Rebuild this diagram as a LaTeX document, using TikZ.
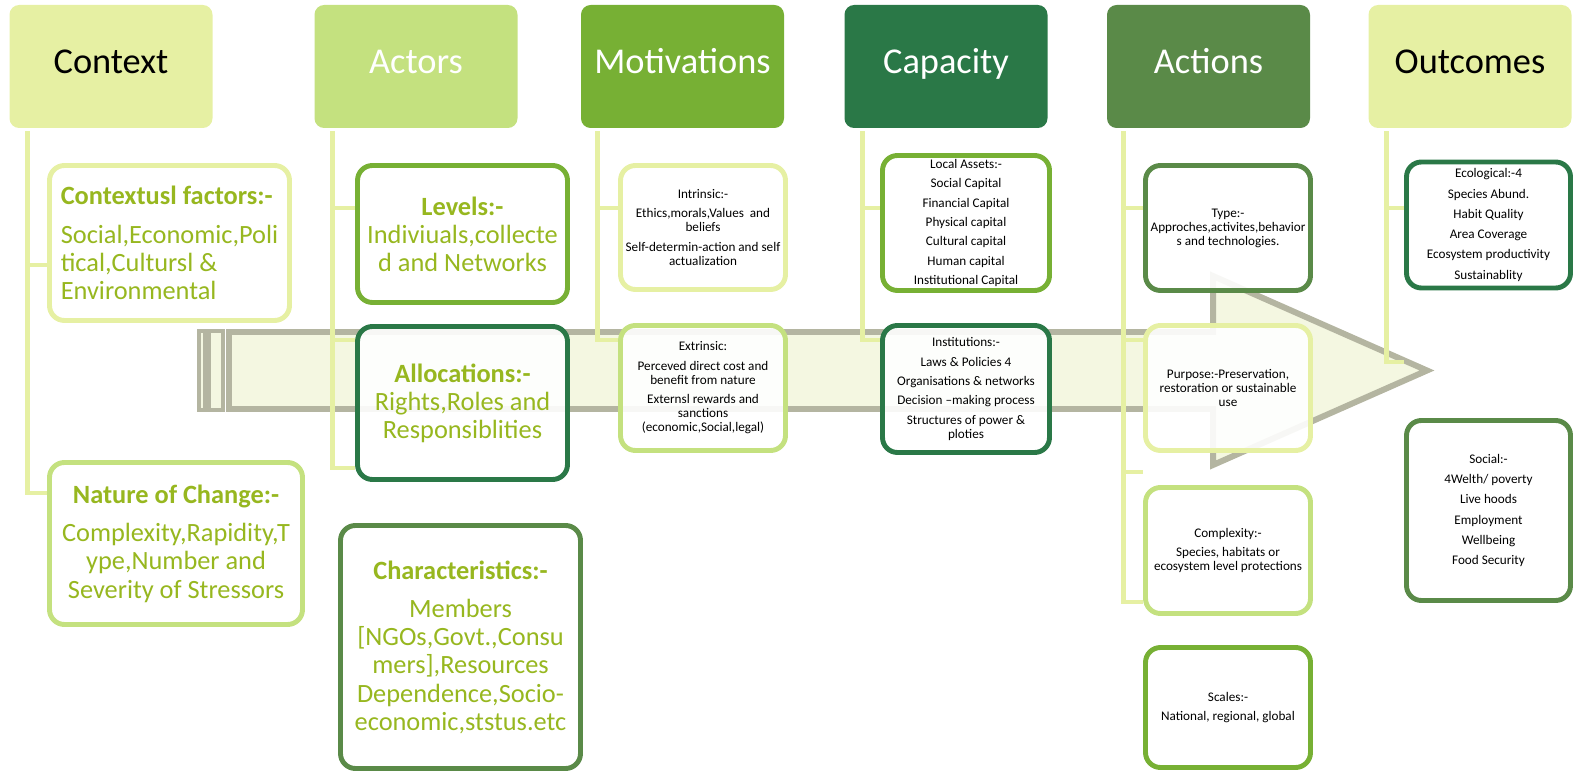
\documentclass[tikz,border=0pt]{standalone}
\usepackage{fontspec}
\setmainfont{Carlito}
\usepackage{xcolor}
\usetikzlibrary{calc}

\definecolor{pale}{HTML}{E6F0A3}
\definecolor{fresh}{HTML}{C4E17F}
\definecolor{grass}{HTML}{77B034}
\definecolor{forest}{HTML}{2A7847}
\definecolor{moss}{HTML}{5A8A48}
\definecolor{leaf}{HTML}{97B71F}
\definecolor{ash}{HTML}{B4B5A1}
\definecolor{cream}{HTML}{F4F7E1}

\pgfdeclarelayer{back}
\pgfsetlayers{back,main}

\begin{document}
\begin{tikzpicture}[
    x=0.02cm, y=-0.02cm,
    head/.style={fill=#1, rounded corners=5.5pt, inner sep=0pt,
                 minimum width=203*0.02cm, minimum height=123*0.02cm,
                 text height=0.8em, text depth=0pt,
                 font=\fontsize{20.7}{24}\selectfont},
    card/.style={draw=#1, line width=2.8pt, rounded corners=8.5pt,
                 fill=white, fill opacity=.9, text opacity=1,
                 inner sep=0pt, align=center},
    wh/.style 2 args={minimum width=#1*0.02cm, minimum height=#2*0.02cm},
    big/.style={font=\fontsize{15}{16}\selectfont, text=leaf},
    small/.style={font=\fontsize{7.5}{8}\selectfont},
    link/.style={draw=pale, line width=2.8pt}
]
\useasboundingbox (0,0) rectangle (1575,776);

\node[head=pale]                (hctx)  at (111,66.5)    {Context};
\node[head=fresh, text=white]   (hact)  at (416,66.5)    {Actors};
\node[head=grass, text=white]   (hmot)  at (682.5,66.5)  {Motivations};
\node[head=forest, text=white]  (hcap)  at (946,66.5)    {Capacity};
\node[head=moss, text=white]    (hacts) at (1208.5,66.5) {Actions};
\node[head=pale]                (hout)  at (1470,66.5)   {Outcomes};

% context
\node[card=pale, wh={240}{155}, big, align=left] (cf) at (169.5,243)
    {\textbf{Contextusl factors:-}\\[6pt]
     Social,Economic,Poli\\tical,Cultursl \&\\Environmental};
\node[card=fresh, wh={253}{162}, big] (noc) at (176,543.5)
    {\textbf{Nature of Change:-}\\[6pt]
     Complexity,Rapidity,T\\ype,Number and\\Severity of Stressors};

% actors
\node[card=grass, wh={210}{137}, big] (lev) at (462.5,234)
    {\textbf{Levels:-}\\Indiviuals,collecte\\d and Networks};
\node[card=forest, wh={210}{153}, big] (alloc) at (462.5,403)
    {\textbf{Allocations:-}\\Rights,Roles and\\Responsiblities};
\node[card=moss, wh={240}{243}, big] (chr) at (460.5,647)
    {\textbf{Characteristics:-}\\[6pt]
     Members\\{[}NGOs,Govt.,Consu\\mers],Resources\\
     Dependence,Socio-\\economic,ststus.etc};

% motivations
\node[card=pale, wh={165}{124}, small] (intr) at (703,227.5)
    {Intrinsic:-\\[3pt]Ethics,morals,Values\ \ and\\beliefs\\[3pt]
     Self-determin-action and self\\actualization};
\node[card=fresh, wh={165}{125}, small] (extr) at (703,388)
    {Extrinsic:\\[3pt]Perceved direct cost and\\benefit from nature\\[3pt]
     Externsl rewards and\\sanctions\\(economic,Social,legal)};

% capacity
\node[card=grass, wh={167}{135}, small] (assets) at (966,223)
    {Local Assets:-\\[3pt]Social Capital\\[3pt]Financial Capital\\[3pt]
     Physical capital\\[3pt]Cultural capital\\[3pt]Human capital\\[3pt]
     Institutional Capital};
\node[card=forest, wh={167}{127}, small] (inst) at (966,389)
    {Institutions:-\\[3pt]Laws \& Policies 4\\[3pt]Organisations \& networks\\[3pt]
     Decision –making process\\[3pt]Structures of power \&\\ploties};

% actions
\node[card=moss, wh={165}{125}, small] (type) at (1228,228)
    {Type:-\\Approches,activites,behavior\\s and technologies.};
\node[card=pale, wh={165}{125}, small] (purp) at (1228,388)
    {Purpose:-Preservation,\\restoration or sustainable\\use};
\node[card=fresh, wh={165}{126}, small] (cplx) at (1228,550.5)
    {Complexity:-\\[3pt]Species, habitats or\\ecosystem level protections};
\node[card=grass, wh={165}{120}, small] (scl) at (1228,707.5)
    {Scales:-\\[3pt]National, regional, global};

% outcomes
\node[card=forest, wh={164}{126}, small] (eco) at (1488.5,225)
    {Ecological:-4\\[3.5pt]Species Abund.\\[3.5pt]Habit Quality\\[3.5pt]Area Coverage\\[3.5pt]
     Ecosystem productivity\\[3.5pt]Sustainablity};
\node[card=moss, wh={164}{180}, small] (soc) at (1488.5,510.5)
    {Social:-\\[3.5pt]4Welth/ poverty\\[3.5pt]Live hoods\\[3.5pt]Employment\\[3.5pt]
     Wellbeing\\[3.5pt]Food Security};

\coordinate (acts-knot) at (1143,472);
\coordinate (out-knot) at (1404,362);

\begin{pgfonlayer}{back}
% flow arrow
\draw[ash, line width=2.3pt, fill=cream] (199,331) rectangle (205,410);
\draw[ash, line width=2.3pt, fill=cream] (209,331) rectangle (223,410);
\draw[ash, line width=3.4pt, fill=cream, line join=miter]
    (229,332) -- (1213,332) -- (1213,276) -- (1427,370.5)
    -- (1213,465) -- (1213,409) -- (229,409) -- cycle;

\draw[link] ([shift={(18,3)}]hctx.south west) |- ([shift={(0,22)}]cf.west);
\draw[link] ([shift={(18,3)}]hctx.south west) |- ([shift={(0,-50.5)}]noc.west);

\draw[link] ([shift={(18,3)}]hact.south west) |- ([shift={(0,-26)}]lev.west);
\draw[link] ([shift={(18,3)}]hact.south west) |- ([shift={(0,-63)}]alloc.west);
\draw[link] ([shift={(18,3)}]hact.south west) |- ([shift={(0,65)}]alloc.west);

\draw[link] ([shift={(17,3)}]hmot.south west) |- ([shift={(0,-19.5)}]intr.west);
\draw[link] ([shift={(17,3)}]hmot.south west) |- ([shift={(0,-48)}]extr.west);

\draw[link] ([shift={(18,3)}]hcap.south west) |- ([shift={(0,-15)}]assets.west);
\draw[link] ([shift={(18,3)}]hcap.south west) |- ([shift={(0,-49)}]inst.west);

\draw[link] ([shift={(17,3)}]hacts.south west) |- ([shift={(0,-20)}]type.west);
\draw[link] ([shift={(17,3)}]hacts.south west) |- ([shift={(0,-48)}]purp.west);
\draw[link] ([shift={(17,3)}]hacts.south west) |- (acts-knot);
\draw[link] ([shift={(17,3)}]hacts.south west) |- ([shift={(0,51.5)}]cplx.west);

\draw[link] ([shift={(18,3)}]hout.south west) |- ([shift={(0,-17)}]eco.west);
\draw[link] ([shift={(18,3)}]hout.south west) |- (out-knot);
\end{pgfonlayer}

\end{tikzpicture}
\end{document}
